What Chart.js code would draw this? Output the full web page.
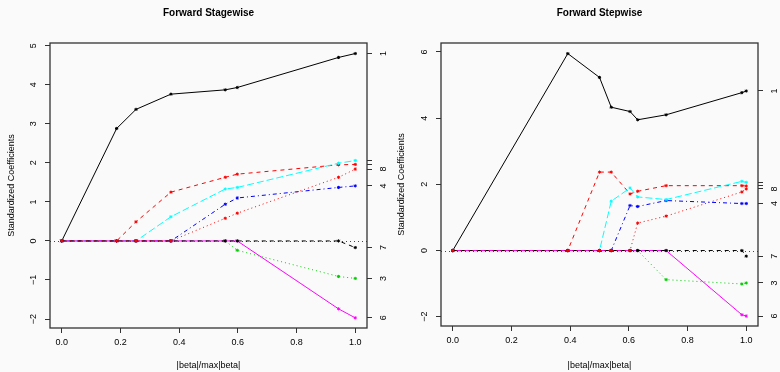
<!DOCTYPE html>
<html><head><meta charset="utf-8">
<script src="https://cdn.jsdelivr.net/npm/chart.js@4/dist/chart.umd.min.js"></script>
<style>
html,body{margin:0;padding:0;background:#fafafa;}
#wrap{position:relative;width:780px;height:372px;overflow:hidden;}
canvas{position:absolute;top:0;}
</style></head><body>
<div id="wrap"><canvas id="c1" width="390" height="372" style="left:0"></canvas><canvas id="c2" width="390" height="372" style="left:390px"></canvas></div>
<script>
// ---- Data ----
const varNames = ['1','2','3','4','5','6','7','8'];
const xTicks = [0, 0.2, 0.4, 0.6, 0.8, 1.0];

// Forward Stagewise
const stageSteps  = [0, 0.187, 0.253, 0.372, 0.557, 0.598, 0.943, 1.0];
const stageCoef1  = [0, 2.88, 3.37, 3.76, 3.87, 3.93, 4.70, 4.80];
const stageCoef2  = [0, 0, 0.49, 1.25, 1.63, 1.71, 1.95, 1.96];
const stageCoef3  = [0, 0, 0, 0, 0, -0.24, -0.91, -0.96];
const stageCoef4  = [0, 0, 0, 0, 0.94, 1.10, 1.37, 1.41];
const stageCoef5  = [0, 0, 0, 0.62, 1.33, 1.37, 1.99, 2.06];
const stageCoef6  = [0, 0, 0, 0, 0, 0, -1.74, -1.97];
const stageCoef7  = [0, 0, 0, 0, 0, 0, 0, -0.17];
const stageCoef8  = [0, 0, 0, 0, 0.58, 0.71, 1.63, 1.84];
const stageYTicks = [-2, -1, 0, 1, 2, 3, 4, 5];
const stageHidden = ['2', '5'];

// Forward Stepwise
const stepSteps  = [0, 0.392, 0.50, 0.54, 0.604, 0.63, 0.727, 0.985, 1.0];
const stepCoef1  = [0, 5.95, 5.23, 4.33, 4.20, 3.95, 4.10, 4.77, 4.82];
const stepCoef2  = [0, 0, 2.37, 2.37, 1.71, 1.79, 1.96, 1.96, 1.95];
const stepCoef3  = [0, 0, 0, 0, 0, 0, -0.88, -1.01, -0.98];
const stepCoef4  = [0, 0, 0, 0, 1.36, 1.33, 1.51, 1.42, 1.42];
const stepCoef5  = [0, 0, 0, 1.49, 1.89, 1.62, 1.54, 2.09, 2.06];
const stepCoef6  = [0, 0, 0, 0, 0, 0, 0, -1.94, -1.98];
const stepCoef7  = [0, 0, 0, 0, 0, 0, 0, 0, -0.17];
const stepCoef8  = [0, 0, 0, 0, 0, 0.83, 1.04, 1.77, 1.86];
const stepYTicks = [-2, 0, 2, 4, 6];
const stepHidden = ['2', '5'];

// ---- Styles (R matplot defaults) ----
const palette = ['#000000', '#FF0000', '#00CD00', '#0000FF', '#00FFFF', '#FF00FF'];
const dashes = [[], [4, 4], [1, 3], [1, 3, 4, 3], [7, 3]];

Chart.defaults.font.family = '"Liberation Sans", Arial, Helvetica, sans-serif';
Chart.defaults.color = '#000';

function fmtY(v) { return v < 0 ? '\u2212' + Math.abs(v) : String(v); }

function makeChart(id, title, steps, coefs, yMin, yMax, yTicks, hidden, geom) {
  const datasets = coefs.map((vals, i) => ({
    label: varNames[i],
    data: steps.map((s, k) => ({ x: s, y: vals[k] })),
    borderColor: palette[i % 6],
    backgroundColor: palette[i % 6],
    borderDash: dashes[i % 5],
    borderWidth: 1,
    pointStyle: 'star',
    pointRadius: 1.6,
    pointBorderWidth: 1,
    pointBorderColor: palette[i % 6],
    tension: 0,
    fill: false,
    order: 7 - i,
    yAxisID: 'y'
  }));
  const finals = coefs.map(v => v[v.length - 1]);
  const finalLabels = varNames.map(n => hidden.includes(n) ? '' : n);

  const deco = {
    id: 'deco' + id,
    beforeDatasetsDraw(chart) {
      const { ctx, chartArea: ca, scales } = chart;
      const y0 = scales.y.getPixelForValue(0);
      ctx.save();
      ctx.strokeStyle = '#444';
      ctx.lineWidth = 1;
      ctx.setLineDash([1, 3]);
      ctx.beginPath();
      ctx.moveTo(ca.left, Math.round(y0) + 0.5);
      ctx.lineTo(ca.right, Math.round(y0) + 0.5);
      ctx.stroke();
      ctx.restore();
    },
    afterDraw(chart) {
      const { ctx, chartArea: ca } = chart;
      ctx.save();
      ctx.strokeStyle = '#333';
      ctx.lineWidth = 1.3;
      ctx.strokeRect(ca.left, ca.top, ca.right - ca.left, ca.bottom - ca.top);
      ctx.fillStyle = '#000';
      ctx.font = 'bold 10px "Liberation Sans", Arial, sans-serif';
      ctx.textAlign = 'center';
      ctx.textBaseline = 'middle';
      ctx.fillText(title, (ca.left + ca.right) / 2, 13);
      ctx.restore();
    }
  };

  return new Chart(document.getElementById(id), {
    type: 'line',
    data: { datasets },
    options: {
      responsive: false,
      animation: false,
      devicePixelRatio: 1,
      layout: { padding: { top: 43, left: 0, right: 0, bottom: 0 } },
      plugins: { legend: { display: false }, tooltip: { enabled: false }, title: { display: false } },
      scales: {
        x: {
          type: 'linear', min: -0.04, max: 1.04,
          afterBuildTicks: s => { s.ticks = xTicks.map(v => ({ value: v })); },
          afterFit: s => { s.height = geom.xh; },
          ticks: { callback: v => Number(v).toFixed(1), font: { size: 9 }, padding: 4, autoSkip: false, maxRotation: 0, minRotation: 0 },
          grid: { drawOnChartArea: false, drawTicks: true, tickLength: 5, color: '#333' },
          border: { display: false },
          title: { display: true, text: '|beta|/max|beta|', font: { size: 9 }, padding: { top: 0, bottom: 1 } }
        },
        y: {
          type: 'linear', position: 'left', min: yMin, max: yMax,
          afterBuildTicks: s => { s.ticks = yTicks.map(v => ({ value: v })); },
          afterFit: s => { s.width = geom.yl; },
          ticks: { callback: v => fmtY(v), font: { size: 9 }, padding: 6, autoSkip: false, minRotation: 90, maxRotation: 90, crossAlign: 'center' },
          grid: { drawOnChartArea: false, drawTicks: true, tickLength: 5, color: '#333' },
          border: { display: false },
          title: { display: true, text: 'Standardized Coefficients', font: { size: 9 }, padding: { top: 6, bottom: 0 } }
        },
        y2: {
          type: 'linear', position: 'right', min: yMin, max: yMax,
          afterBuildTicks: s => { s.ticks = finals.map(v => ({ value: v })); },
          afterFit: s => { s.width = geom.yr; },
          ticks: { callback: (v, i) => finalLabels[i], font: { size: 9 }, padding: 9, autoSkip: false, minRotation: 90, maxRotation: 90, crossAlign: 'center' },
          grid: { drawOnChartArea: false, drawTicks: true, tickLength: 5, color: '#333' },
          border: { display: false }
        }
      }
    },
    plugins: [deco]
  });
}

makeChart('c1', 'Forward Stagewise', stageSteps,
  [stageCoef1, stageCoef2, stageCoef3, stageCoef4, stageCoef5, stageCoef6, stageCoef7, stageCoef8],
  -2.23, 5.07, stageYTicks, stageHidden, { xh: 44, yl: 50, yr: 23 });

makeChart('c2', 'Forward Stepwise', stepSteps,
  [stepCoef1, stepCoef2, stepCoef3, stepCoef4, stepCoef5, stepCoef6, stepCoef7, stepCoef8],
  -2.28, 6.27, stepYTicks, stepHidden, { xh: 46, yl: 51, yr: 22 });
</script>
</body></html>
